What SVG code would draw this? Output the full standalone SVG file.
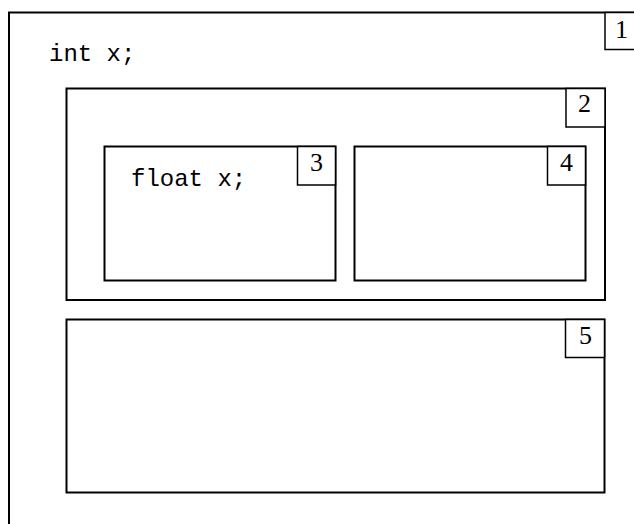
<svg xmlns="http://www.w3.org/2000/svg" width="634" height="524" viewBox="0 0 634 524">
  <style>
    .scope { fill: none; stroke: #000; stroke-width: 2; }
    .tag { fill: #fff; stroke: #000; stroke-width: 1.5; }
    .num { font-family: "Liberation Serif", "Times New Roman", serif; font-size: 26px; fill: #000; text-anchor: middle; }
    .code { font-family: "Liberation Mono", "Courier New", monospace; font-size: 24px; fill: #000; }
  </style>
  <rect width="634" height="524" fill="#fff"/>

  <!-- scope 1: outermost block -->
  <g id="scope1">
    <rect class="scope" x="9" y="12.5" width="640" height="530"/>
    <rect class="tag" x="605" y="12.5" width="40" height="37"/>
    <text class="num" x="621.5" y="37.5">1</text>
    <text class="code" x="49" y="61">int x;</text>
  </g>

  <!-- scope 2: nested block holding 3 and 4 -->
  <g id="scope2">
    <rect class="scope" x="66.5" y="88.5" width="538.5" height="211.5"/>
    <rect class="tag" x="566" y="88.5" width="39" height="38.5"/>
    <text class="num" x="584.5" y="112">2</text>
  </g>

  <!-- scope 3 -->
  <g id="scope3">
    <rect class="scope" x="104.5" y="146.5" width="231" height="134"/>
    <rect class="tag" x="297.5" y="146.5" width="38" height="38.5"/>
    <text class="num" x="316.5" y="171">3</text>
    <text class="code" x="131" y="186">float x;</text>
  </g>

  <!-- scope 4 -->
  <g id="scope4">
    <rect class="scope" x="354.5" y="146.5" width="231" height="134"/>
    <rect class="tag" x="547.5" y="146.5" width="38" height="38.5"/>
    <text class="num" x="566.5" y="171">4</text>
  </g>

  <!-- scope 5 -->
  <g id="scope5">
    <rect class="scope" x="66.5" y="319.5" width="538" height="173"/>
    <rect class="tag" x="565.5" y="319.5" width="39" height="38"/>
    <text class="num" x="585.5" y="344">5</text>
  </g>

  <g id="connectors"/>
</svg>
